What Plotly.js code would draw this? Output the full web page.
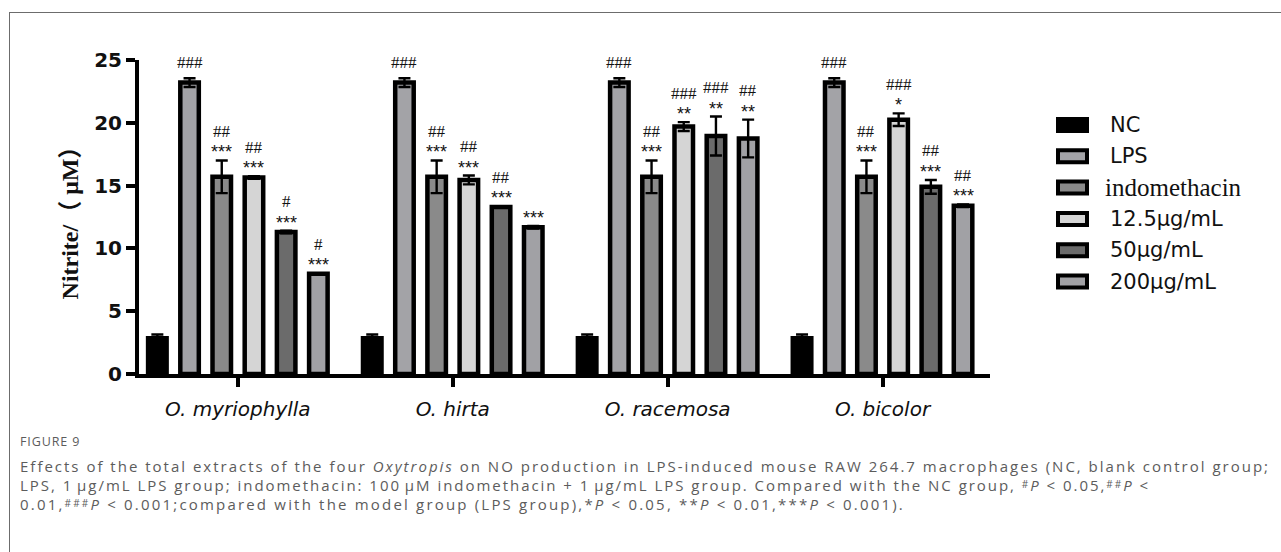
<!DOCTYPE html>
<html>
<head>
<meta charset="utf-8">
<script src="https://cdn.plot.ly/plotly-3.0.1.min.js"></script>
<style>
  html, body { margin: 0; padding: 0; background: #fff; }
  #wrap { position: relative; width: 1281px; height: 552px; overflow: hidden; }
  #frame { position: absolute; left: 9px; top: 12px; width: 1300px; height: 600px;
           border-top: 1px solid #6c6c6c; border-left: 1px solid #6c6c6c; pointer-events: none; }
  #chart { position: absolute; left: 0; top: 0; width: 1281px; height: 552px; }
  #caption { position: absolute; left: 20px; top: 433px; color: #5c5c5c;
             font-family: 'Open Sans', sans-serif; }
  #caption .fig { font-size: 12.5px; letter-spacing: 0.9px; line-height: 18px; margin-bottom: 6px; }
  #caption .line { display: block; width: max-content; font-size: 15px; line-height: 19px;
                   letter-spacing: 1.8px; white-space: nowrap; }
  #caption .sg { font-size: 10px; line-height: 0; vertical-align: 0.28em; }
</style>
</head>
<body>
<div id="wrap">
  <div id="chart"></div>
  <div id="frame"></div>
  <div id="caption">
    <div class="fig">FIGURE 9</div>
    <span class="line" data-right="1270">Effects of the total extracts of the four <i>Oxytropis</i> on NO production in LPS-induced mouse RAW 264.7 macrophages (NC, blank control group;</span>
    <span class="line" data-right="1150">LPS, 1&#8239;µg/mL LPS group; indomethacin: 100&#8239;µM indomethacin + 1&#8239;µg/mL LPS group. Compared with the NC group, <span class="sg">#</span><i>P</i> &lt; 0.05,<span class="sg">##</span><i>P</i> &lt;</span>
    <span class="line" data-right="905">0.01,<span class="sg">###</span><i>P</i> &lt; 0.001;compared with the model group (LPS group),*<i>P</i> &lt; 0.05, **<i>P</i> &lt; 0.01,***<i>P</i> &lt; 0.001).</span>
  </div>
</div>
<script>
// Species groups on the x axis
const species = ['O. myriophylla', 'O. hirta', 'O. racemosa', 'O. bicolor'];

// Treatment groups (one bar per group inside each species)
const groupNames = ['NC', 'LPS', 'indomethacin', '12.5µg/mL', '50µg/mL', '200µg/mL'];

// Nitrite (µM), mean and SD per species
const ncMean   = [2.85, 2.85, 2.85, 2.85];
const ncSd     = [0.3, 0.3, 0.3, 0.3];
const lpsMean  = [23.2, 23.2, 23.2, 23.2];
const lpsSd    = [0.35, 0.35, 0.35, 0.35];
const indoMean = [15.7, 15.7, 15.7, 15.7];
const indoSd   = [1.3, 1.3, 1.3, 1.3];
const d125Mean = [15.65, 15.45, 19.7, 20.25];
const d125Sd   = [0.1, 0.35, 0.35, 0.5];
const d50Mean  = [11.3, 13.3, 18.95, 14.9];
const d50Sd    = [0.1, 0.05, 1.55, 0.55];
const d200Mean = [7.98, 11.68, 18.75, 13.4];
const d200Sd   = [0.05, 0.1, 1.5, 0.1];

// Significance marks: # vs NC, * vs LPS
const ncHash   = ['', '', '', ''];
const ncStar   = ['', '', '', ''];
const lpsHash  = ['###', '###', '###', '###'];
const lpsStar  = ['', '', '', ''];
const indoHash = ['##', '##', '##', '##'];
const indoStar = ['***', '***', '***', '***'];
const d125Hash = ['##', '##', '###', '###'];
const d125Star = ['***', '***', '**', '*'];
const d50Hash  = ['#', '##', '###', '##'];
const d50Star  = ['***', '***', '**', '***'];
const d200Hash = ['#', '', '##', '##'];
const d200Star = ['***', '***', '**', '***'];

const means = [ncMean, lpsMean, indoMean, d125Mean, d50Mean, d200Mean];
const sds   = [ncSd, lpsSd, indoSd, d125Sd, d50Sd, d200Sd];
const hashes = [ncHash, lpsHash, indoHash, d125Hash, d50Hash, d200Hash];
const stars  = [ncStar, lpsStar, indoStar, d125Star, d50Star, d200Star];
const fills  = ['#000000', '#a3a3a7', '#8a8a8a', '#d5d5d5', '#6b6b6b', '#a1a1a5'];

// Plot geometry
const W = 1281, H = 552;
const M = { l: 139, r: 291, t: 60, b: 178 };
const xRange = [-0.46, 3.5];
const yRange = [0, 25];
const bargap = 0.101;
const plotW = W - M.l - M.r, plotH = H - M.t - M.b;
const catPx = plotW / (xRange[1] - xRange[0]);
const slotPx = catPx * (1 - bargap) / groupNames.length;

const traces = groupNames.map((name, i) => ({
  type: 'bar',
  name: name,
  x: species,
  y: means[i],
  marker: { color: fills[i], line: { color: '#000', width: 4.5 } },
  error_y: { type: 'data', array: sds[i], visible: true, color: '#000', thickness: 2.4, width: 6 },
  showlegend: false,
  hoverinfo: 'skip'
}));

// Significance labels above each error bar: stars first, hashes stacked above them
const hashFont = { family: 'Liberation Serif, Times New Roman, serif', size: 17, color: '#111' };
const starFont = { family: 'Liberation Sans, Arial, sans-serif', size: 18, color: '#111' };
const annotations = [];
groupNames.forEach((name, i) => {
  const dx = (i - (groupNames.length - 1) / 2) * slotPx;
  species.forEach((sp, j) => {
    const top = means[i][j] + sds[i][j];
    const hasStar = stars[i][j] !== '';
    if (hasStar) {
      annotations.push({ x: sp, y: top, xref: 'x', yref: 'y', text: stars[i][j],
        showarrow: false, xshift: dx, yshift: 8, yanchor: 'middle', font: starFont });
    }
    if (hashes[i][j] !== '') {
      annotations.push({ x: sp, y: top, xref: 'x', yref: 'y', text: hashes[i][j],
        showarrow: false, xshift: dx, yshift: hasStar ? 29 : 16, yanchor: 'middle', font: hashFont });
    }
  });
});

// Legend drawn as swatches + labels to the right of the plot
const px2x = px => (px - M.l) / plotW;
const py2y = py => (H - M.b - py) / plotH;
const shapes = [];
const legTop = 125, legStep = 31.3;
groupNames.forEach((name, i) => {
  const cy = legTop + i * legStep;
  shapes.push({ type: 'rect', xref: 'paper', yref: 'paper',
    x0: px2x(1058), x1: px2x(1087), y0: py2y(cy - 6), y1: py2y(cy + 6),
    fillcolor: fills[i], line: { color: '#000', width: 4 } });
  const serif = name === 'indomethacin';
  annotations.push({ xref: 'paper', yref: 'paper', x: px2x(serif ? 1103 : 1108), y: py2y(cy),
    xanchor: 'left', yanchor: 'middle', showarrow: false, text: name,
    font: serif ? { family: 'Liberation Serif, Times New Roman, serif', size: 25, color: '#111' }
                : { family: 'DejaVu Sans, sans-serif', size: 21, color: '#111' } });
});

const layout = {
  width: W, height: H,
  margin: M,
  paper_bgcolor: 'rgba(0,0,0,0)',
  plot_bgcolor: 'rgba(0,0,0,0)',
  barmode: 'group',
  bargap: bargap,
  bargroupgap: 0.425,
  showlegend: false,
  xaxis: {
    type: 'category', range: xRange, showgrid: false, zeroline: false,
    showline: true, linecolor: '#000', linewidth: 4,
    ticks: 'outside', ticklen: 9, tickwidth: 4, tickcolor: '#000', ticklabelstandoff: 5,
    tickfont: { family: 'DejaVu Sans, sans-serif', size: 20, style: 'italic', color: '#111' }
  },
  yaxis: {
    range: yRange, tickvals: [0, 5, 10, 15, 20, 25], showgrid: false, zeroline: false,
    showline: true, linecolor: '#000', linewidth: 4,
    ticks: 'outside', ticklen: 9, tickwidth: 4, tickcolor: '#000',
    tickfont: { family: 'DejaVu Sans, sans-serif', size: 20, weight: 'bold', color: '#111' },
    title: { text: 'Nitrite/（ μM）', standoff: 10,
      font: { family: 'Liberation Serif, Noto Sans CJK SC, serif', size: 24, weight: 'bold', color: '#111' } }
  },
  annotations: annotations,
  shapes: shapes
};

Plotly.newPlot('chart', traces, layout, { staticPlot: true, displayModeBar: false });

// Spread each caption line so that it ends where the printed line ends
function fitCaption() {
  const left = document.getElementById('caption').getBoundingClientRect().left;
  document.querySelectorAll('#caption .line').forEach(el => {
    el.style.letterSpacing = '0px';
    const natural = el.getBoundingClientRect().width;
    const chars = el.textContent.length;
    const target = parseFloat(el.dataset.right) - left;
    el.style.letterSpacing = ((target - natural) / chars).toFixed(3) + 'px';
  });
}
fitCaption();
if (document.fonts && document.fonts.ready) document.fonts.ready.then(fitCaption);
</script>
</body>
</html>
